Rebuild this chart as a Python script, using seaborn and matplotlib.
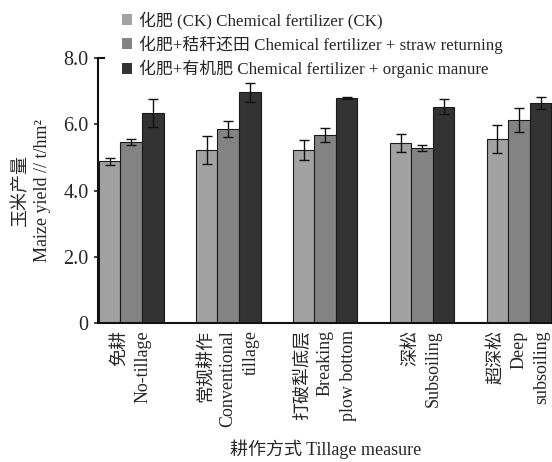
import numpy as np
import pandas as pd
import matplotlib
matplotlib.use("Agg")
import matplotlib.pyplot as plt
import seaborn as sns
from matplotlib.patches import Patch

# ---- data ----
tillage = ["免耕\nNo-tillage", "常规耕作\nConventional\ntillage",
           "打破犁底层\nBreaking\nplow bottom", "深松\nSubsoiling",
           "超深松\nDeep\nsubsoiling"]
treatments = ["化肥 (CK) Chemical fertilizer (CK)",
              "化肥+秸秆还田 Chemical fertilizer + straw returning",
              "化肥+有机肥 Chemical fertilizer + organic manure"]
ck_mean = [4.88, 5.23, 5.23, 5.44, 5.56]
straw_mean = [5.47, 5.86, 5.68, 5.29, 6.14]
organic_mean = [6.34, 6.96, 6.80, 6.53, 6.63]
ck_err = [0.10, 0.43, 0.31, 0.26, 0.41]
straw_err = [0.10, 0.23, 0.20, 0.08, 0.36]
organic_err = [0.42, 0.28, 0.03, 0.23, 0.18]
yticks = [0, 2, 4, 6, 8]
ytick_labels = ["0", "2.0", "4.0", "6.0", "8.0"]
colors = ["#a2a2a2", "#838383", "#333333"]

sns.set_style("ticks")
plt.rcParams["font.family"] = ["Liberation Serif", "Noto Sans CJK SC"]

df = pd.DataFrame({
    "tillage": tillage * 3,
    "treatment": [treatments[0]] * 5 + [treatments[1]] * 5 + [treatments[2]] * 5,
    "yield": ck_mean + straw_mean + organic_mean,
})
errs = ck_err + straw_err + organic_err

fig = plt.figure(figsize=(5.52, 4.62), dpi=100)
ax = fig.add_axes([0.178, 0.300, 0.822, 0.5745])

sns.barplot(data=df, x="tillage", y="yield", hue="treatment", order=tillage,
            hue_order=treatments, palette=colors, errorbar=None, width=0.667,
            edgecolor="#1a1a1a", linewidth=0.8, ax=ax, legend=False)

# error bars at bar centres
bars = [p for p in ax.patches][:15]
xs = [p.get_x() + p.get_width() / 2 for p in bars]
hs = [p.get_height() for p in bars]
ax.errorbar(xs, hs, yerr=errs, fmt="none", ecolor="#111111", elinewidth=1.0,
            capsize=3.5, capthick=1.0, zorder=5)

ax.set_xlim(-0.34, 4.34)
ax.set_ylim(0, 8)
ax.set_yticks(yticks)
ax.set_yticklabels(ytick_labels, fontsize=14.5)
ax.tick_params(axis="y", direction="out", length=3, width=1.2, pad=4)
ax.tick_params(axis="x", length=0, pad=5)
ax.set_xticks(range(5))
ax.set_xticklabels(tillage, rotation=90, fontsize=13, va="top", ha="center",
                   multialignment="right", linespacing=1.45)

ax.spines["right"].set_visible(False)
ax.spines["top"].set_bounds(-0.34, -0.28)
for s in ["left", "bottom", "top"]:
    ax.spines[s].set_linewidth(1.5)
    ax.spines[s].set_color("#111111")

ax.set_xlabel("耕作方式 Tillage measure", fontsize=13, labelpad=9)
ax.set_ylabel("玉米产量\nMaize yield // t/hm²", fontsize=13, labelpad=9,
              linespacing=1.3)

handles = [Patch(facecolor=c, edgecolor="none") for c in colors]
fig.legend(handles, treatments, loc="upper left", bbox_to_anchor=(0.208, 0.99),
           frameon=False, fontsize=12.2, handlelength=0.6, handleheight=0.6,
           handletextpad=0.45, labelspacing=0.36, borderaxespad=0)

fig.savefig("out.png", dpi=100)
